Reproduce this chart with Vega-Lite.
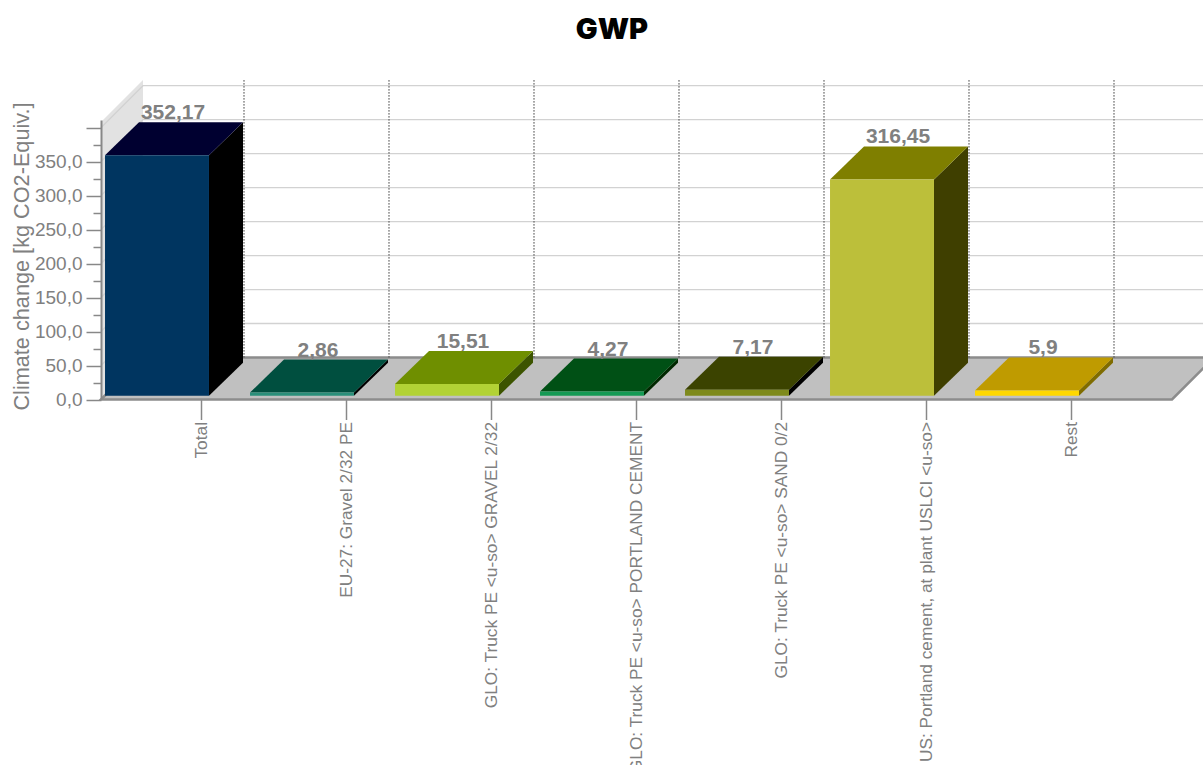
{
  "$schema": "https://vega.github.io/schema/vega-lite/v6.json",
  "autosize": {"type": "none"},
  "padding": {"left": 101, "top": 120, "right": 0, "bottom": 365.5},
  "width": 1102,
  "height": 279.5,
  "background": "white",
  "config": {"view": {"stroke": null}, "font": "Liberation Sans"},
  "title": {
    "text": "GWP",
    "font": "Inter",
    "fontWeight": 900,
    "fontSize": 29,
    "color": "#000000",
    "anchor": "middle",
    "frame": "group",
    "dx": -40,
    "offset": 31
  },
  "data": {
    "values": [
      {"name": "Total", "value": 352.17, "label": "352,17"},
      {"name": "EU-27: Gravel 2/32 PE", "value": 2.86, "label": "2,86"},
      {"name": "GLO: Truck PE <u-so> GRAVEL 2/32", "value": 15.51, "label": "15,51"},
      {"name": "GLO: Truck PE <u-so> PORTLAND CEMENT", "value": 4.27, "label": "4,27"},
      {"name": "GLO: Truck PE <u-so> SAND 0/2", "value": 7.17, "label": "7,17"},
      {"name": "US: Portland cement, at plant USLCI <u-so>", "value": 316.45, "label": "316,45"},
      {"name": "Rest", "value": 5.9, "label": "5,9"}
    ]
  },
  "layer": [
    {
      "description": "Left wall of the 3D box",
      "data": {"values": [{"tick": 0}]},
      "mark": {"type": "point", "filled": true, "opacity": 1, "size": 4, "strokeWidth": 0, "color": "#e2e2e2", "shape": "M-551 0L-509 -42L-509 -319.5L-551 -277.5Z"},
      "encoding": {"y": {"field": "tick", "type": "quantitative", "scale": {"domain": [0, 411.3], "nice": false}, "axis": null}}
    },
    {
      "description": "Floor of the 3D box",
      "data": {"values": [{"tick": 0}]},
      "mark": {"type": "point", "filled": true, "opacity": 1, "size": 4, "fill": "#c0c0c0", "stroke": "#8c8c8c", "strokeWidth": 2.5, "shape": "M-551 0L-509 -42L562 -42L520 0Z"},
      "encoding": {"y": {"field": "tick", "type": "quantitative", "axis": null}}
    },
    {
      "description": "Value grid, running up the wall and along the back",
      "data": {"values": [{"tick": 50}, {"tick": 100}, {"tick": 150}, {"tick": 200}, {"tick": 250}, {"tick": 300}, {"tick": 350}, {"tick": 400}]},
      "mark": {"type": "point", "filled": false, "opacity": 1, "size": 4, "color": "#d2d2d2", "strokeWidth": 1.3, "shape": "M-551 0L-509 -42L562 -42"},
      "encoding": {"y": {"field": "tick", "type": "quantitative", "axis": null}}
    },
    {
      "description": "Dotted category separators on the back wall",
      "mark": {"type": "point", "filled": false, "opacity": 1, "size": 4, "color": "#555555", "strokeWidth": 1.4, "strokeDash": [1.3, 1.7], "shape": "M42 -42V-321"},
      "encoding": {
        "x": {"field": "name", "type": "nominal", "sort": null, "bandPosition": 0.8103, "scale": {"type": "band", "range": [-16.5, 998.5], "padding": 0}},
        "y": {"datum": 0, "type": "quantitative", "axis": null}
      }
    },
    {
      "description": "Right side face of each bar",
      "mark": {"type": "point", "filled": true, "opacity": 1, "size": 4, "strokeWidth": 0, "yOffset": -5, "shape": {"expr": "'M52 0L86 -33L86 ' + (0.6795 * datum.value + 1.2 - 33) + 'L52 ' + (0.6795 * datum.value + 1.2) + 'Z'"}},
      "encoding": {
        "x": {"field": "name", "type": "nominal", "sort": null},
        "y": {"field": "value", "type": "quantitative", "axis": null},
        "color": {"field": "name", "type": "nominal", "sort": null, "legend": null, "scale": {"range": ["#000000", "#000000", "#3c5400", "#002800", "#000000", "#3f3f00", "#7f6c00"]}}
      }
    },
    {
      "description": "Top face of each bar",
      "mark": {"type": "point", "filled": true, "opacity": 1, "size": 4, "strokeWidth": 0, "yOffset": -5, "shape": "M-52 0L-18 -33L86 -33L52 0Z"},
      "encoding": {
        "x": {"field": "name", "type": "nominal", "sort": null},
        "y": {"field": "value", "type": "quantitative", "axis": null},
        "color": {"field": "name", "type": "nominal", "sort": null, "legend": null, "scale": {"range": ["#000030", "#004f3f", "#6f8f00", "#005015", "#3b4300", "#7f7f00", "#bf9b00"]}}
      }
    },
    {
      "description": "Front face of each bar, carrying the main axes",
      "mark": {"type": "bar", "width": {"band": 0.717}, "yOffset": -5, "y2Offset": -3.8},
      "encoding": {
        "x": {
          "field": "name", "type": "nominal", "sort": null,
          "axis": {
            "title": null, "orient": "bottom", "domain": false, "bandPosition": 0.8103,
            "labelAngle": -90, "labelAlign": "right", "labelBaseline": "middle",
            "labelFont": "Liberation Sans", "labelFontSize": 17.3, "labelColor": "#808080", "labelPadding": 2, "labelOffset": 45, "labelLimit": 500, "labelOverlap": false,
            "tickColor": "#888888", "tickWidth": 1.5, "tickSize": 20, "grid": false
          }
        },
        "y": {
          "field": "value", "type": "quantitative",
          "axis": {
            "orient": "left", "zindex": 1, "grid": false,
            "values": [0, 50, 100, 150, 200, 250, 300, 350, 400],
            "labelExpr": "datum.value < 400 ? replace(format(datum.value, '.1f'), '.', ',') : ''",
            "labelFont": "Liberation Sans", "labelFontSize": 19, "labelColor": "#808080", "labelPadding": 4,
            "domainColor": "#888888", "domainWidth": 2, "tickColor": "#888888", "tickWidth": 1.5, "tickSize": 15,
            "title": "Climate change [kg CO2-Equiv.]", "titleFont": "Liberation Sans", "titleFontSize": 21.7, "titleFontWeight": "normal", "titleColor": "#808080",
            "titleX": -68, "titleY": 136, "titleAlign": "center"
          }
        },
        "y2": {"datum": 0},
        "color": {"field": "name", "type": "nominal", "sort": null, "legend": null, "scale": {"range": ["#003560", "#2a8f7a", "#b2d235", "#159a54", "#7e8a1c", "#bcbf3a", "#ffd800"]}}
      }
    },
    {
      "description": "Minor ticks halfway between the labelled values",
      "data": {"values": [{"tick": 25}, {"tick": 75}, {"tick": 125}, {"tick": 175}, {"tick": 225}, {"tick": 275}, {"tick": 325}, {"tick": 375}]},
      "mark": {"type": "point", "opacity": 0},
      "encoding": {
        "y": {
          "field": "tick", "type": "quantitative",
          "axis": {"orient": "left", "zindex": 1, "title": null, "grid": false, "domain": false, "labels": false, "values": [25, 75, 125, 175, 225, 275, 325, 375], "tickColor": "#888888", "tickWidth": 1.5, "tickSize": 8}
        }
      }
    },
    {
      "description": "Value labels above each bar",
      "mark": {"type": "text", "font": "Liberation Sans", "fontWeight": "bold", "fontSize": 21, "color": "#808080", "align": "center", "baseline": "alphabetic", "dx": 16, "dy": -41},
      "encoding": {
        "x": {"field": "name", "type": "nominal", "sort": null},
        "y": {"field": "value", "type": "quantitative", "axis": null},
        "text": {"field": "label", "type": "nominal"}
      }
    }
  ],
  "resolve": {"scale": {"color": "independent"}, "axis": {"y": "independent"}}
}
